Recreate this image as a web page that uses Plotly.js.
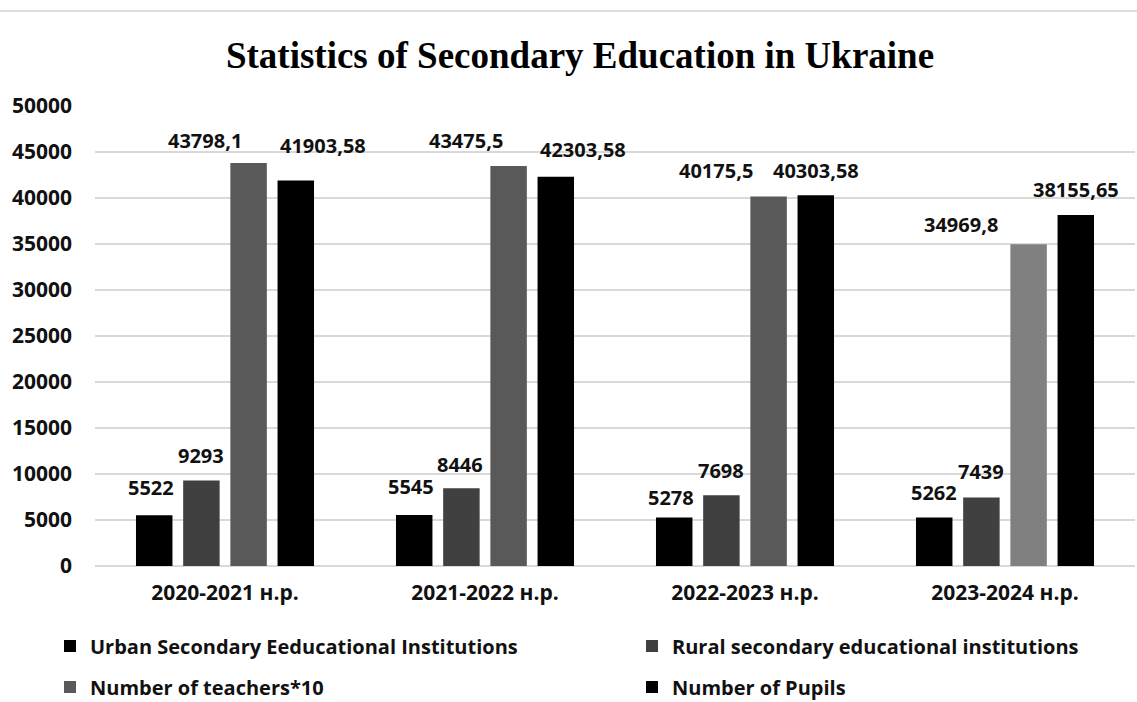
<!DOCTYPE html>
<html>
<head>
<meta charset="utf-8">
<script src="https://cdn.plot.ly/plotly-3.0.1.min.js"></script>
<style>html,body{margin:0;padding:0;background:#fff;}#chart{width:1137px;height:702px;}</style>
</head>
<body>
<div id="chart"></div>
<script>
// ---- data ----
const years = ["2020-2021 н.р.", "2021-2022 н.р.", "2022-2023 н.р.", "2023-2024 н.р."];
const urban = [5522, 5545, 5278, 5262];
const rural = [9293, 8446, 7698, 7439];
const teachers10 = [43798.1, 43475.5, 40175.5, 34969.8];
const pupils = [41903.58, 42303.58, 40303.58, 38155.65];
const urbanLabels = ["5522", "5545", "5278", "5262"];
const ruralLabels = ["9293", "8446", "7698", "7439"];
const teacherLabels = ["43798,1", "43475,5", "40175,5", "34969,8"];
const pupilLabels = ["41903,58", "42303,58", "40303,58", "38155,65"];
const seriesNames = ["Urban Secondary Eeducational Institutions", "Rural secondary educational institutions", "Number of teachers*10", "Number of Pupils"];

// ---- style ----
const FONT = "Open Sans, Noto Sans, sans-serif";
const M = {l: 95, r: 2, t: 106, b: 136};
const W = 1137, H = 702;
const BARGAP = 0.274, BARGROUPGAP = 0.227;
const teacherColors = ["#595959", "#595959", "#595959", "#808080"];
// label pixel nudges (style only)
const labelDX = [[-3, -3, -3, 0], [0, -1, 0, 0], [-44, -43, -53, -68], [27, 27, 0, 0]];
const labelDY = [[28, 28, 20, 25], [25, 24, 25, 26], [23, 26, 26, 20], [35, 27, 25, 25]];
// legend placement (container px): [left x, centre y]
const legendPos = [[50, 646], [632, 646], [50, 687], [632, 687]];
const legendIds = ["legend", "legend2", "legend3", "legend4"];

const series = [
  {name: seriesNames[0], y: urban, color: "#000000", labels: urbanLabels},
  {name: seriesNames[1], y: rural, color: "#404040", labels: ruralLabels},
  {name: seriesNames[2], y: teachers10, color: teacherColors, labels: teacherLabels},
  {name: seriesNames[3], y: pupils, color: "#000000", labels: pupilLabels}
];

const traces = series.map((s, j) => ({
  type: "bar", x: years, y: s.y, name: s.name, legend: legendIds[j],
  marker: {color: s.color, line: {width: 0}},
  hoverinfo: "skip"
}));

const plotW = W - M.l - M.r;
const catPx = plotW / years.length;
const slotPx = catPx * (1 - BARGAP) / series.length;

const LABEL_FONT = {family: FONT, size: 20, color: "#111", weight: 700};
const annotations = [];
series.forEach((s, j) => {
  s.y.forEach((v, i) => {
    annotations.push({
      x: years[i], y: v, xref: "x", yref: "y",
      text: s.labels[i], showarrow: false,
      xanchor: "center", yanchor: "middle",
      xshift: (j - (series.length - 1) / 2) * slotPx + labelDX[j][i],
      yshift: labelDY[j][i],
      font: LABEL_FONT
    });
  });
});

const layout = {
  width: W, height: H,
  margin: M,
  paper_bgcolor: "#ffffff", plot_bgcolor: "#ffffff",
  barmode: "group", bargap: BARGAP, bargroupgap: BARGROUPGAP,
  title: {
    text: "Statistics of Secondary Education in Ukraine",
    font: {family: "Liberation Serif, Times New Roman, serif", size: 37, color: "#000", weight: 700},
    x: 580 / W, xanchor: "center", xref: "container",
    y: 1 - 55 / H, yref: "container", yanchor: "middle"
  },
  xaxis: {
    type: "category", showgrid: false, zeroline: false, showline: false, ticks: "",
    tickfont: {family: FONT, size: 21, color: "#111", weight: 700},
    ticklabelstandoff: 12
  },
  yaxis: {
    range: [0, 50000], dtick: 5000, tick0: 0,
    showgrid: true, gridcolor: "#d9d9d9", gridwidth: 2,
    zeroline: true, zerolinecolor: "#d9d9d9", zerolinewidth: 2,
    showline: false, ticks: "",
    tickfont: {family: FONT, size: 21, color: "#111", weight: 700},
    tickformat: "d", ticklabelstandoff: 22
  },
  annotations: annotations,
  shapes: [{
    type: "line", xref: "paper", yref: "paper",
    x0: -0.1, x1: 1.01, y0: (H - M.b - 11) / (H - M.t - M.b), y1: (H - M.b - 11) / (H - M.t - M.b),
    line: {color: "#dcdcdc", width: 2}
  }],
  showlegend: true
};

legendIds.forEach((id, k) => {
  layout[id] = {
    orientation: "h", xref: "container", yref: "container",
    x: legendPos[k][0] / W, y: 1 - legendPos[k][1] / H,
    xanchor: "left", yanchor: "middle",
    font: {family: FONT, size: 20, color: "#111", weight: 700},
    bgcolor: "rgba(0,0,0,0)", itemclick: false, borderwidth: 0
  };
});

Plotly.newPlot("chart", traces, layout, {displayModeBar: false, staticPlot: true});
</script>
</body>
</html>
